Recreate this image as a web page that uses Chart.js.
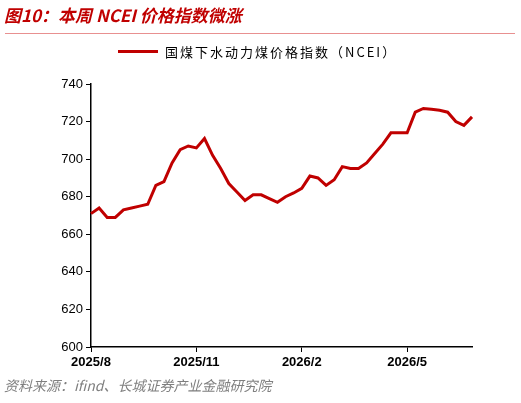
<!DOCTYPE html>
<html><head><meta charset="utf-8">
<script src="https://cdn.jsdelivr.net/npm/chart.js@4"></script>
<style>
body{margin:0;background:#fff;font-family:"Noto Sans CJK SC",sans-serif;}
#wrap{position:relative;width:521px;height:403px;}
#title{position:absolute;left:4px;top:2px;color:#c00000;font-weight:bold;font-style:italic;font-size:17px;}
#tline{position:absolute;left:5px;top:33px;width:510px;height:1px;background:#e89090;}
#legend{position:absolute;left:118px;top:42px;font-size:13px;color:#000;display:flex;align-items:center;letter-spacing:2px;}
#legend span.sw{display:inline-block;width:40px;height:3px;background:#c00000;margin-right:7px;}
#src{position:absolute;left:4px;top:375px;color:#7f7f7f;font-style:italic;font-size:14px;}
canvas{position:absolute;left:0;top:0;}
</style></head><body>
<div id="wrap">
<canvas id="c" width="521" height="403"></canvas>
<div id="title">图10：本周 NCEI 价格指数微涨</div>
<div id="tline"></div>
<div id="legend"><span class="sw"></span>国煤下水动力煤价格指数（NCEI）</div>
<div id="src">资料来源：ifind、长城证券产业金融研究院</div>
</div>
<script>
const tickLabels = ["2025/8","2025/11","2026/2","2026/5"];
const tickIdx = [0,13,26,39];
const values = [671,674,669,669,673,674,675,676,686,688,698,705,707,706,711,702,695,687,682.5,678,681,681,679,677,680,682,684.5,691,690,686,689,696,695,695,698,703,708,714,714,714,725,727,726.5,726,725,720,718,722.5];
const categories = values.map((v,i)=>{const t=tickIdx.indexOf(i);return t>=0?tickLabels[t]:"w"+i;});
new Chart(document.getElementById('c'),{
 type:'line',
 data:{labels:categories,datasets:[{data:values,borderColor:'#c00000',borderWidth:3,pointRadius:0,tension:0,fill:false}]},
 options:{responsive:false,animation:false,
  layout:{padding:{top:84,right:49,left:0,bottom:0}},
  plugins:{legend:{display:false},tooltip:{enabled:false}},
  scales:{
   x:{offset:false,border:{color:'#000',width:1.5},
    grid:{drawOnChartArea:false,tickLength:5,color:c=>tickIdx.includes(c.index)?'#000':'rgba(0,0,0,0)'},
    ticks:{autoSkip:false,maxRotation:0,color:'#000',font:{size:13,family:'Liberation Sans',weight:'bold'},
      callback:function(v,i){return tickIdx.includes(i)?categories[i]:'';}},
    afterFit:s=>{s.height=56;}},
   y:{min:600,max:740,border:{color:'#000',width:1.5},
    grid:{drawOnChartArea:false,tickLength:5,color:'#000'},
    ticks:{stepSize:20,color:'#000',font:{size:13,family:'Liberation Sans'}},
    afterFit:s=>{s.width=91;}}
  }}
});
</script></body></html>
